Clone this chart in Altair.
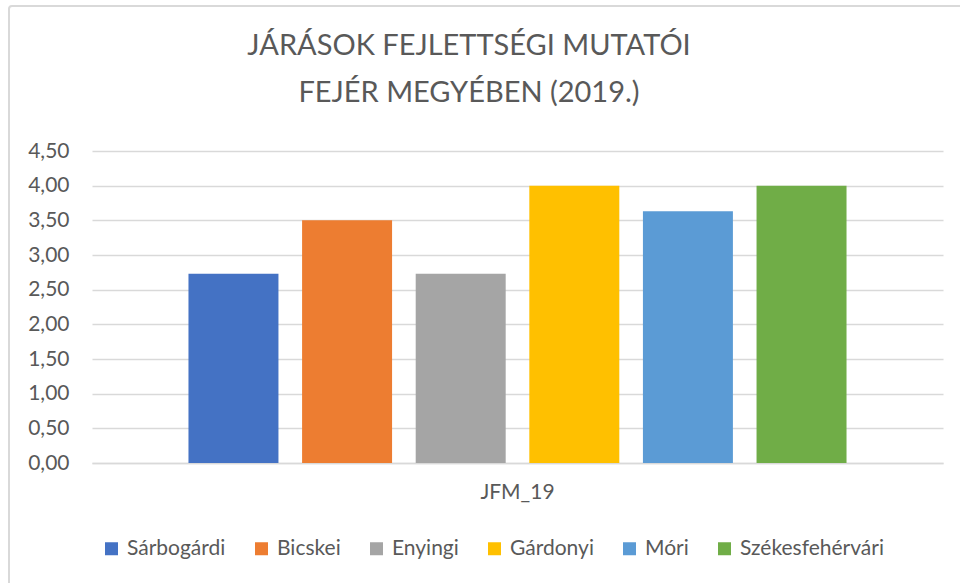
import altair as alt
import pandas as pd

category = ["JFM_19"]
series = ["Sárbogárdi", "Bicskei", "Enyingi", "Gárdonyi", "Móri", "Székesfehérvári"]
values = [2.73, 3.50, 2.73, 4.00, 3.63, 4.00]
colors = ["#4472C4", "#ED7D31", "#A5A5A5", "#FFC000", "#5B9BD5", "#70AD47"]
y_ticks = [0, 0.5, 1.0, 1.5, 2.0, 2.5, 3.0, 3.5, 4.0, 4.5]
title_lines = ["JÁRÁSOK FEJLETTSÉGI MUTATÓI", "FEJÉR MEGYÉBEN (2019.)"]

df = pd.DataFrame({"cat": category * len(series), "series": series, "value": values})
title_df = pd.DataFrame({"line": title_lines})

FONT = "Lato"
TXT = "#595959"
GRID = "#D9D9D9"

bars = alt.Chart(df).mark_bar().encode(
    x=alt.X("cat:N", title=None,
            scale=alt.Scale(paddingInner=0, paddingOuter=0.1466),
            axis=alt.Axis(labelAngle=0, ticks=False, domain=True, domainColor=GRID,
                          domainWidth=1.5, labelFontSize=21, labelColor=TXT,
                          labelFont=FONT, labelPadding=18, grid=False)),
    xOffset=alt.XOffset("series:N", sort=series,
                        scale=alt.Scale(paddingInner=0.208, paddingOuter=0)),
    y=alt.Y("value:Q", title=None,
            scale=alt.Scale(domain=[0, 4.5], nice=False),
            axis=alt.Axis(values=y_ticks, ticks=False, domain=False, grid=True,
                          gridColor=GRID, gridWidth=1.5, labelFontSize=21,
                          labelColor=TXT, labelFont=FONT, labelPadding=23,
                          labelExpr="replace(format(datum.value, '.2f'), '.', ',')")),
    color=alt.Color("series:N", sort=series,
                    scale=alt.Scale(domain=series, range=colors),
                    legend=alt.Legend(title=None, orient="none", direction="horizontal",
                                      legendX=9, legendY=387, symbolType="square",
                                      symbolSize=169, symbolStrokeWidth=0,
                                      labelFontSize=21, labelColor=TXT, labelFont=FONT,
                                      labelOffset=5, columnPadding=25, padding=0,
                                      columns=6)),
)

title = alt.Chart(title_df).mark_text(
    font=FONT, fontSize=29, color=TXT, align="center", baseline="alphabetic"
).encode(
    text="line:N",
    x=alt.value(377),
    y=alt.Y("line:N", sort=title_lines, axis=None,
            scale=alt.Scale(type="point", padding=0, domain=title_lines, range=[-96, -49])),
)

border = alt.Chart(pd.DataFrame({"a": [0]})).mark_rect(
    fill=None, stroke=GRID, strokeWidth=2, cornerRadius=3
).encode(x=alt.value(-83), x2=alt.value(890), y=alt.value(-145), y2=alt.value(460))

chart = alt.layer(border, title, bars).resolve_scale(y="independent").properties(
    width=851, height=312,
    autosize=alt.AutoSizeParams(type="none"),
    padding={"left": 92, "top": 151, "right": 17, "bottom": 120},
).configure(background="white").configure_view(stroke=None)

chart.save("out.html", embed_options={"renderer": "svg", "actions": False})
